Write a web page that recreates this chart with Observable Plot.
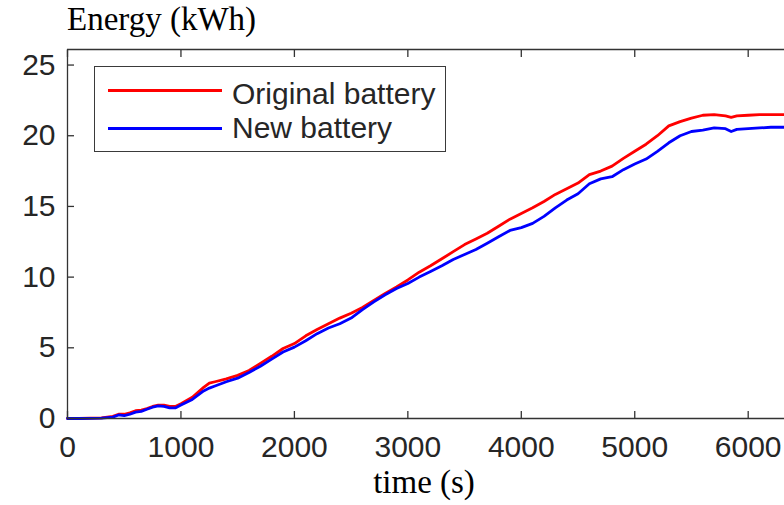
<!DOCTYPE html>
<html>
<head>
<meta charset="utf-8">
<script src="https://cdn.jsdelivr.net/npm/d3@7"></script>
<script src="https://cdn.jsdelivr.net/npm/@observablehq/plot@0.6"></script>
<style>
  html, body { margin: 0; padding: 0; background: #fff; }
  #wrap { position: relative; width: 784px; height: 505px; overflow: hidden; }
  #title { position: absolute; left: 67px; top: 1px; font: 33px/36px "Liberation Serif", "Times New Roman", serif; color: #000; white-space: nowrap; }
  #chart { position: absolute; left: 0; top: 47px; }
  #caption { position: absolute; left: 324px; width: 200px; top: 464px; text-align: center; font: 33px/36px "Liberation Serif", "Times New Roman", serif; color: #000; white-space: nowrap; }
  #legend { position: absolute; left: 94px; top: 66px; width: 352px; height: 86px; box-sizing: border-box; border: 1.3px solid #3a3a3a; background: #fff; }
  .sw { position: absolute; left: 13px; width: 114px; height: 3px; }
  .lt { position: absolute; left: 137px; font: 30px/30px "Liberation Sans", Arial, sans-serif; color: #262626; white-space: nowrap; }
</style>
</head>
<body>
<div id="wrap">
  <div id="title"></div>
  <div id="chart"></div>
  <div id="legend"></div>
  <div id="caption"></div>
</div>
<script>
const titleText = "Energy (kWh)";
const xLabel = "time (s)";
const seriesNames = ["Original battery", "New battery"];
const seriesColors = ["#ff0000", "#0000ff"];
const xTicks = [0, 1000, 2000, 3000, 4000, 5000, 6000];
const yTicks = [0, 5, 10, 15, 20, 25];
const xDomain = [0, 6320];
const yDomain = [0, 26.1];

const times = [0,100,200,300,400,450,500,550,600,650,700,750,800,850,900,950,1000,1100,1200,1250,1300,1400,1500,1600,1700,1800,1900,2000,2100,2200,2300,2400,2500,2600,2700,2800,2900,3000,3100,3200,3300,3400,3500,3600,3700,3800,3900,4000,4100,4200,4300,4400,4500,4600,4700,4800,4900,5000,5100,5200,5300,5400,5500,5600,5700,5800,5850,5900,6000,6100,6200,6320];

const originalBattery = [0,0,0.02,0.05,0.15,0.3,0.3,0.4,0.55,0.6,0.7,0.85,0.95,0.95,0.85,0.85,1.05,1.5,2.2,2.5,2.6,2.8,3.05,3.4,3.9,4.4,4.95,5.3,5.85,6.3,6.7,7.1,7.45,7.85,8.35,8.85,9.3,9.8,10.35,10.8,11.3,11.8,12.3,12.7,13.1,13.6,14.1,14.5,14.9,15.35,15.85,16.25,16.65,17.25,17.5,17.85,18.4,18.9,19.4,20.0,20.7,21.0,21.25,21.45,21.5,21.4,21.3,21.4,21.45,21.5,21.5,21.5];

const newBattery = [0,0,0.01,0.03,0.1,0.25,0.2,0.3,0.45,0.5,0.65,0.8,0.9,0.85,0.75,0.75,0.95,1.35,1.95,2.15,2.3,2.6,2.85,3.25,3.7,4.2,4.7,5.05,5.5,6.0,6.4,6.7,7.1,7.7,8.25,8.75,9.2,9.55,10.0,10.4,10.8,11.25,11.6,11.95,12.4,12.85,13.3,13.5,13.8,14.3,14.9,15.45,15.9,16.6,16.95,17.1,17.6,18.0,18.35,18.9,19.5,20.0,20.3,20.4,20.55,20.5,20.3,20.45,20.5,20.55,20.6,20.6];

const data = [];
times.forEach((t, i) => {
  data.push({t, e: originalBattery[i], s: seriesNames[0]});
});
times.forEach((t, i) => {
  data.push({t, e: newBattery[i], s: seriesNames[1]});
});

document.getElementById("title").textContent = titleText;
document.getElementById("caption").textContent = xLabel;

const axisColor = "#333333";

const chart = Plot.plot({
  width: 784,
  height: 458,
  marginLeft: 67,
  marginRight: 0,
  marginTop: 2,
  marginBottom: 87,
  style: { fontFamily: "'Liberation Sans', Arial, sans-serif", fontSize: "30px", color: "#262626", background: "#fff", overflow: "visible" },
  x: { domain: xDomain },
  y: { domain: yDomain },
  color: { domain: seriesNames, range: seriesColors },
  marks: [
    Plot.line(data, { x: "t", y: "e", z: "s", stroke: "s", strokeWidth: 2.8, strokeLinejoin: "round", strokeLinecap: "round" }),
    Plot.ruleY([yDomain[0]], { stroke: axisColor, strokeWidth: 1.3 }),
    Plot.ruleY([yDomain[1]], { stroke: axisColor, strokeWidth: 1.3 }),
    Plot.ruleX([xDomain[0]], { stroke: axisColor, strokeWidth: 1.3 }),
    Plot.axisX({ anchor: "bottom", ticks: xTicks, tickSize: 0, tickPadding: 17, label: null, tickFormat: d => String(d), fill: "#262626" }),
    Plot.axisX({ anchor: "bottom", ticks: xTicks, tickSize: 7, dy: -7, text: null, label: null, stroke: axisColor, strokeWidth: 1.3 }),
    Plot.axisX({ anchor: "top", ticks: xTicks, tickSize: 7, dy: 7, text: null, label: null, stroke: axisColor, strokeWidth: 1.3 }),
    Plot.axisY({ anchor: "left", ticks: yTicks, tickSize: 0, tickPadding: 12, label: null, tickFormat: d => String(d), fill: "#262626" }),
    Plot.axisY({ anchor: "left", ticks: yTicks, tickSize: 7, dx: 7, text: null, label: null, stroke: axisColor, strokeWidth: 1.3 })
  ]
});
document.getElementById("chart").appendChild(chart);

const legend = document.getElementById("legend");
const lineTops = [22, 60];
const textTops = [12, 46];
seriesNames.forEach((name, i) => {
  const sw = document.createElement("div");
  sw.className = "sw";
  sw.style.top = lineTops[i] + "px";
  sw.style.background = seriesColors[i];
  legend.appendChild(sw);
  const lt = document.createElement("div");
  lt.className = "lt";
  lt.style.top = textTops[i] + "px";
  lt.textContent = name;
  legend.appendChild(lt);
});
</script>
</body>
</html>
